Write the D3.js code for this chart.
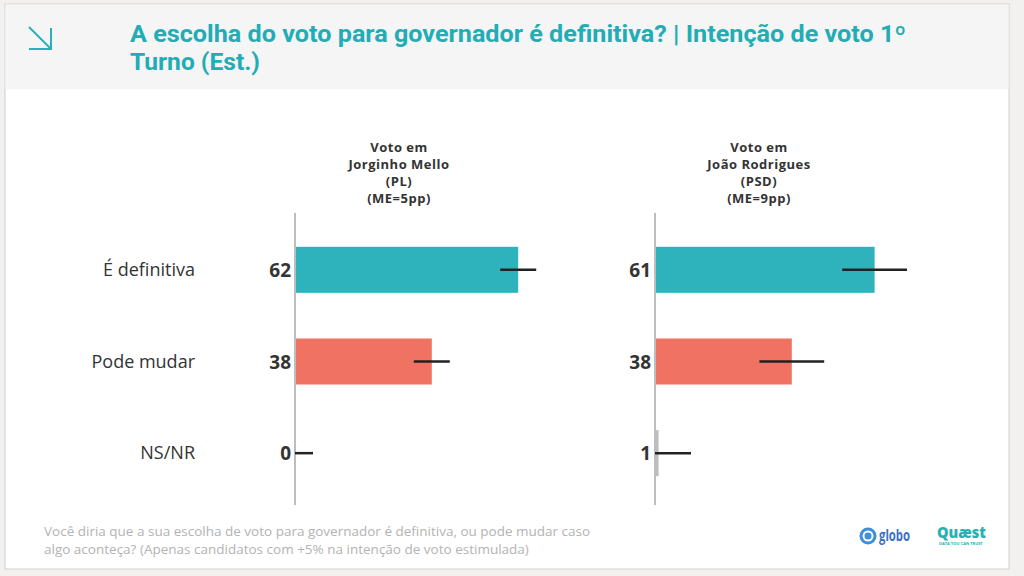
<!DOCTYPE html>
<html>
<head>
<meta charset="utf-8">
<script src="https://cdn.jsdelivr.net/npm/d3@7"></script>
<style>
  body { margin: 0; background: #f2f1ef; }
  svg { display: block; }
</style>
</head>
<body>
<div id="chart"></div>
<script>
const categories = ["É definitiva", "Pode mudar", "NS/NR"];
const panelTitles = [
    ["Voto em", "Jorginho Mello", "(PL)", "(ME=5pp)"],
    ["Voto em", "João Rodrigues", "(PSD)", "(ME=9pp)"]
];
const jorginhoValues = [62, 38, 0];
const joaoValues = [61, 38, 1];
const marginsOfError = [5, 9];
const barColors = ["#2eb3bd", "#ef7263", "#bdbdbd"];

const width = 1024;
const height = 576;

const svg = d3.select("#chart")
    .append("svg")
    .attr("width", width)
    .attr("height", height)
    .style("font-family", "'Open Sans', Lato, sans-serif");

// card
svg.append("rect")
    .attr("x", 5).attr("y", 4)
    .attr("width", 1004).attr("height", 565)
    .attr("fill", "#fff")
    .attr("stroke", "#d0d0d0");

svg.append("rect")
    .attr("x", 5.5).attr("y", 4.5)
    .attr("width", 1003).attr("height", 85)
    .attr("fill", "#f5f5f5");

// header arrow icon
const icon = svg.append("g")
    .attr("stroke", "#2bb0b9")
    .attr("stroke-width", 2)
    .attr("fill", "none");
icon.append("line").attr("x1", 29).attr("y1", 27).attr("x2", 51).attr("y2", 49);
icon.append("polyline").attr("points", "51,28 51,49 29,49");

const title = svg.append("text")
    .attr("x", 130)
    .attr("fill", "#22adb6")
    .style("font-family", "Roboto, sans-serif")
    .style("font-weight", "bold")
    .style("font-size", "23px");
title.append("tspan")
    .attr("x", 130).attr("y", 42)
    .attr("textLength", 776)
    .attr("lengthAdjust", "spacingAndGlyphs")
    .text("A escolha do voto para governador é definitiva? | Intenção de voto 1º");
title.append("tspan")
    .attr("x", 130).attr("y", 70)
    .attr("textLength", 130)
    .attr("lengthAdjust", "spacingAndGlyphs")
    .text("Turno (Est.)");

// category labels
const y = d3.scalePoint()
    .domain(categories)
    .range([224, 499])
    .padding(0.5);

svg.append("g")
    .selectAll("text")
    .data(categories)
    .enter()
    .append("text")
    .attr("x", 195)
    .attr("y", d => y(d) + 6)
    .attr("text-anchor", "end")
    .attr("fill", "#333")
    .style("font-weight", "500")
    .style("font-size", "18px")
    .text(d => d);

const x = d3.scaleLinear().domain([0, 100]).range([0, 360]);
const barHeight = 46;

function drawPanel(x0, values, me, titleLines) {
    const g = svg.append("g").attr("transform", `translate(${x0}, 0)`);

    g.selectAll(".ptitle")
        .data(titleLines)
        .enter()
        .append("text")
        .attr("x", 104)
        .attr("y", (d, i) => 152 + i * 17)
        .attr("text-anchor", "middle")
        .attr("fill", "#333")
        .style("font-weight", "bold")
        .style("font-size", "13px")
        .style("letter-spacing", "0.5px")
        .text(d => d);

    g.selectAll("rect.bar")
        .data(values)
        .enter()
        .append("rect")
        .attr("class", "bar")
        .attr("x", x(0))
        .attr("y", (d, i) => y(categories[i]) - barHeight / 2)
        .attr("width", d => x(d) - x(0))
        .attr("height", barHeight)
        .attr("fill", (d, i) => barColors[i]);

    g.append("line")
        .attr("x1", x(0)).attr("x2", x(0))
        .attr("y1", 213).attr("y2", 505)
        .attr("stroke", "#bdbdbd")
        .attr("stroke-width", 2);

    g.selectAll("line.err")
        .data(values)
        .enter()
        .append("line")
        .attr("class", "err")
        .attr("x1", d => x(Math.max(0, d - me)))
        .attr("x2", d => x(d + me))
        .attr("y1", (d, i) => y(categories[i]))
        .attr("y2", (d, i) => y(categories[i]))
        .attr("stroke", "#222")
        .attr("stroke-width", 2.5);

    g.selectAll("text.val")
        .data(values)
        .enter()
        .append("text")
        .attr("class", "val")
        .attr("x", x(0) - 4)
        .attr("y", (d, i) => y(categories[i]) + 7)
        .attr("text-anchor", "end")
        .attr("fill", "#333")
        .style("font-weight", "bold")
        .style("font-size", "19px")
        .text(d => d);
}

drawPanel(295, jorginhoValues, marginsOfError[0], panelTitles[0]);
drawPanel(655, joaoValues, marginsOfError[1], panelTitles[1]);

// footnote
const note = svg.append("text")
    .attr("fill", "#b3b3b3")
    .style("font-size", "13.5px");
note.append("tspan").attr("x", 44).attr("y", 536)
    .text("Você diria que a sua escolha de voto para governador é definitiva, ou pode mudar caso");
note.append("tspan").attr("x", 44).attr("y", 554)
    .text("algo aconteça? (Apenas candidatos com +5% na intenção de voto estimulada)");

// logos
const globo = svg.append("g").attr("transform", "translate(868, 536)");
globo.append("circle").attr("r", 8.5).attr("fill", "#3b8fdb");
globo.append("circle").attr("r", 5.5).attr("fill", "#fff");
globo.append("circle").attr("r", 3.5).attr("fill", "#3b8fdb");
globo.append("text")
    .attr("x", 11).attr("y", 5)
    .attr("fill", "#3b6fc4")
    .style("font-weight", "bold")
    .style("font-size", "16px")
    .attr("textLength", 31)
    .attr("lengthAdjust", "spacingAndGlyphs")
    .text("globo");

svg.append("text")
    .attr("x", 937).attr("y", 538)
    .attr("fill", "#28b1b4")
    .style("font-weight", "900")
    .style("font-size", "16px")
    .attr("textLength", 49)
    .attr("lengthAdjust", "spacingAndGlyphs")
    .text("Quæst");
svg.append("text")
    .attr("x", 939).attr("y", 545)
    .attr("fill", "#28b1b4")
    .style("font-weight", "bold")
    .style("font-size", "4px")
    .text("DATA YOU CAN TRUST");
</script>
</body>
</html>
